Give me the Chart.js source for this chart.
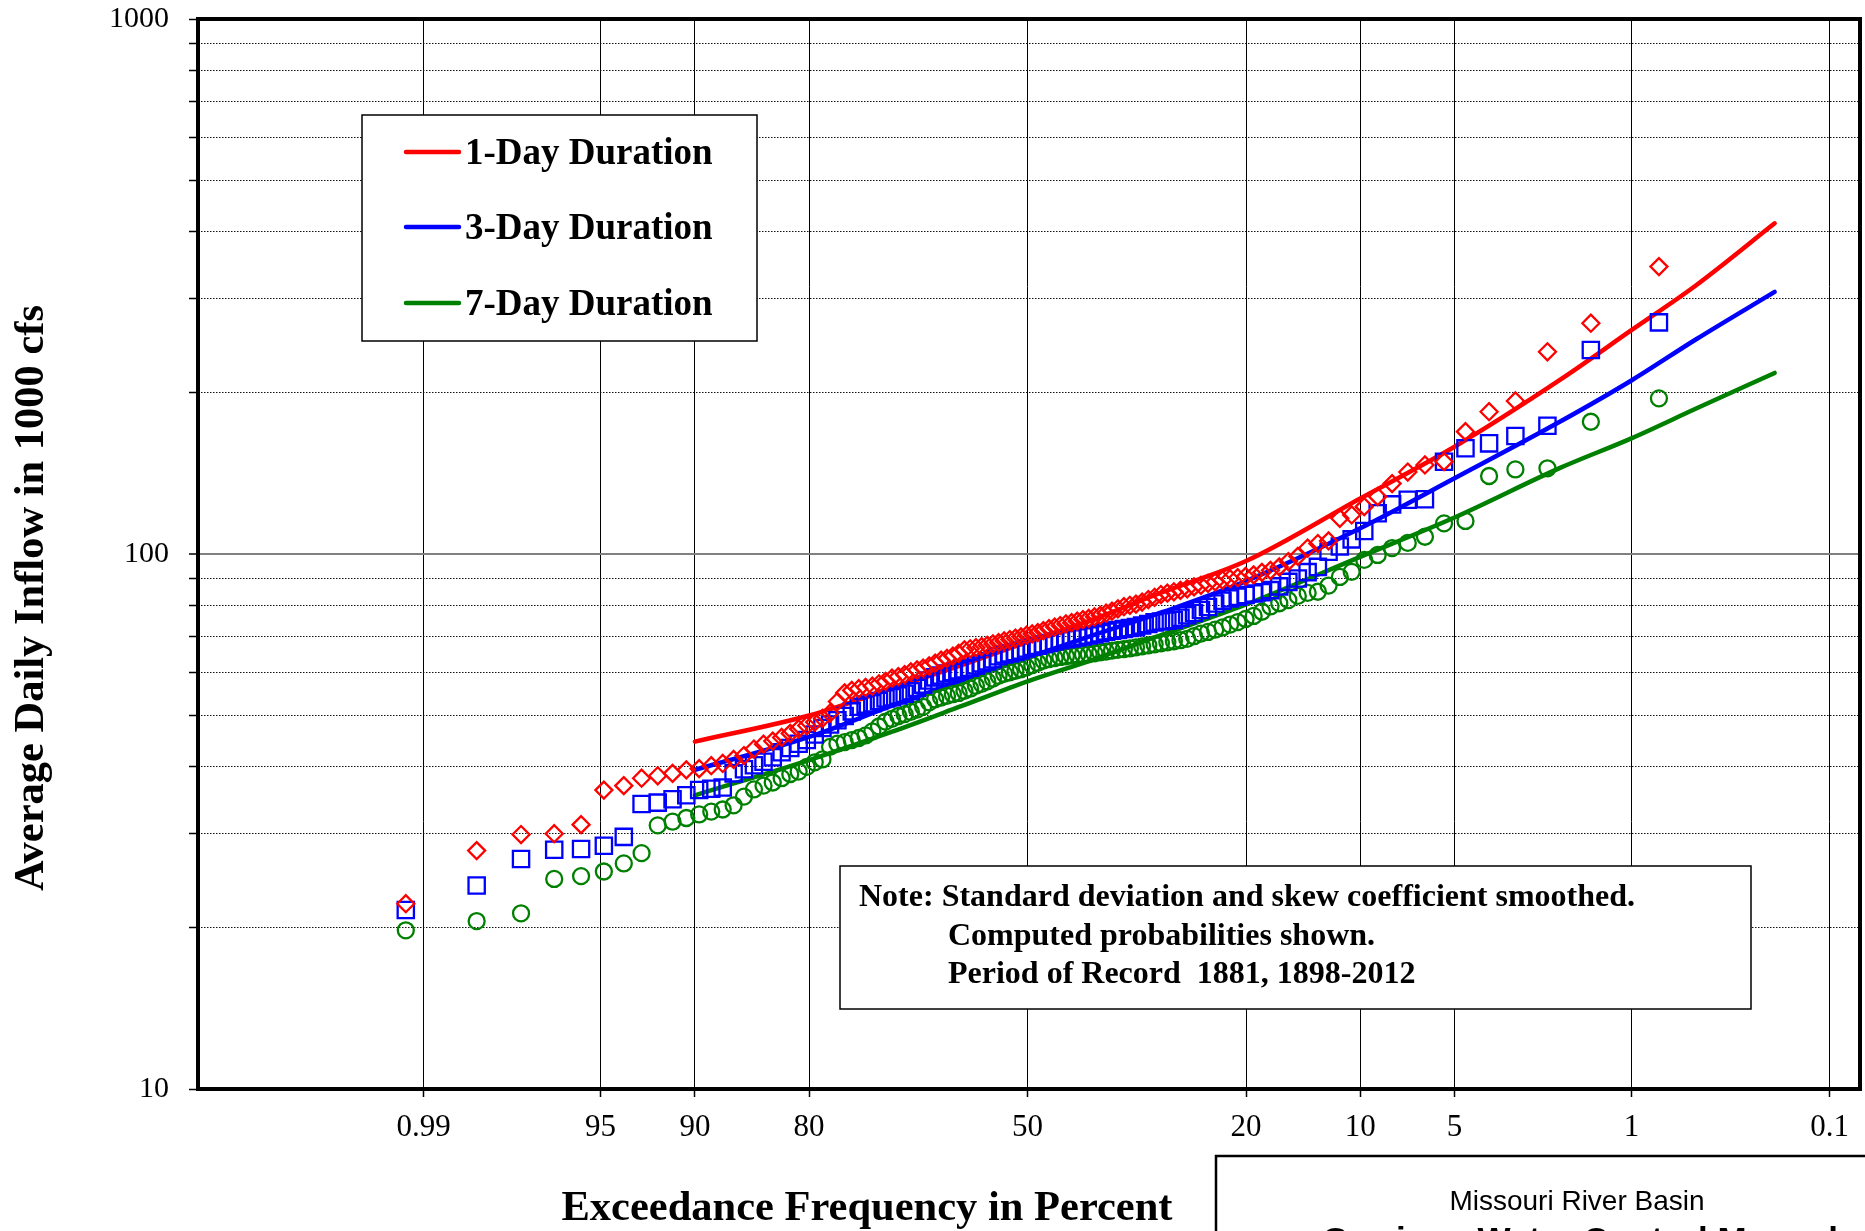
<!DOCTYPE html>
<html>
<head>
<meta charset="utf-8">
<title>Exceedance Frequency - Average Daily Inflow</title>
<script src="https://cdn.jsdelivr.net/npm/chart.js@4.4.1/dist/chart.umd.min.js"></script>
<style>
  html, body { margin: 0; padding: 0; background: #fff; overflow: hidden; }
  #wrap { width: 1865px; height: 1231px; position: relative; }
  canvas { display: block; }
</style>
</head>
<body>
<div id="wrap"><canvas id="freqChart"></canvas></div>
<script>
// Plotting positions (exceedance, percent) shared by the three observed series
const exceedance = [0.75, 1.50, 2.26, 3.01, 3.77, 4.58, 5.43, 6.29, 7.15, 8.01, 8.87, 9.73,
  10.59, 11.45, 12.31, 13.17, 14.03, 14.89, 15.75, 16.61, 17.47, 18.33, 19.19, 20.05,
  20.91, 21.77, 22.63, 23.49, 24.35, 25.21, 26.07, 26.93, 27.79, 28.65, 29.51, 30.37,
  31.23, 32.09, 32.95, 33.81, 34.67, 35.53, 36.39, 37.25, 38.11, 38.97, 39.83, 40.69,
  41.55, 42.41, 43.27, 44.13, 44.99, 45.85, 46.71, 47.57, 48.43, 49.29, 50.15, 51.01,
  51.87, 52.73, 53.59, 54.45, 55.31, 56.17, 57.03, 57.89, 58.75, 59.61, 60.47, 61.33,
  62.19, 63.05, 63.91, 64.77, 65.63, 66.49, 67.35, 68.21, 69.07, 69.93, 70.79, 71.65,
  72.51, 73.37, 74.23, 75.09, 75.95, 76.81, 77.67, 78.53, 79.39, 80.25, 81.11, 81.97,
  82.83, 83.69, 84.55, 85.41, 86.27, 87.13, 87.99, 88.85, 89.71, 90.57, 91.43, 92.29,
  93.15, 94.01, 94.87, 95.73, 96.59, 97.45, 98.31, 99.17];

// Observed inflows, 1000 cfs (ranked, largest first)
const oneDayObs = [344.5, 270, 238.8, 193.2, 184.5, 169.3, 148.8, 146.7, 142.3, 135.4, 128, 122.6,
  118.3, 116.6, 105.8, 104.6, 102.6, 99.0, 96.8, 94.6, 93.2, 92.4, 91.4, 90.8,
  90.3, 89.9, 89.4, 88.7, 88.1, 87.4, 86.8, 86.1, 85.5, 85.0, 84.5, 84.0,
  83.0, 82.2, 81.3, 80.6, 80.2, 79.7, 79.0, 78.2, 77.5, 76.8, 76.3, 75.8,
  75.4, 74.9, 74.4, 74.0, 73.5, 73.0, 72.5, 71.9, 71.3, 70.9, 70.5, 70.0,
  69.6, 69.2, 68.8, 68.3, 67.9, 67.5, 67.1, 66.8, 66.5, 66.2, 65.2, 64.4,
  63.8, 63.3, 62.5, 61.8, 61.2, 60.7, 60.2, 59.5, 59.0, 58.6, 57.8, 57.2,
  56.6, 56.3, 56.0, 55.6, 55.0, 53.0, 50.4, 49.3, 48.5, 47.8, 47.1, 46.2,
  45.4, 44.7, 44.1, 43.2, 42.0, 41.3, 40.6, 40.2, 39.7, 39.5, 38.9, 38.5,
  38.1, 36.9, 36.2, 31.2, 30.0, 29.9, 27.9, 22.2];

const threeDayObs = [271, 240.6, 173.7, 166.2, 161, 157.6, 148.8, 126.6, 126.3, 123.8, 119.2, 110.4,
  106.5, 103.3, 101.0, 94.6, 92.5, 90.0, 88.7, 87.0, 85.6, 84.8, 84.4, 83.8,
  83.2, 82.6, 81.8, 80.8, 79.6, 78.6, 77.6, 76.8, 76.0, 75.3, 75.0, 74.8,
  74.5, 74.0, 73.5, 73.0, 72.7, 72.4, 72.1, 71.9, 71.6, 71.1, 70.7, 70.4,
  70.1, 69.8, 69.5, 69.3, 69.0, 68.6, 68.2, 67.8, 67.4, 67.1, 66.6, 66.0,
  65.6, 65.2, 64.9, 64.4, 63.6, 63.0, 62.5, 61.9, 61.3, 60.9, 60.6, 60.2,
  59.8, 59.3, 58.8, 58.0, 57.0, 56.2, 55.4, 54.8, 54.4, 54.0, 53.7, 53.1,
  52.6, 52.3, 51.8, 50.8, 49.8, 48.9, 48.0, 47.3, 46.0, 44.9, 44.2, 43.4,
  42.6, 41.7, 40.9, 40.3, 39.6, 38.9, 36.6, 36.4, 36.2, 35.4, 34.8, 34.3,
  34.1, 29.6, 28.5, 28.1, 28.0, 26.9, 24.0, 21.6];

const sevenDayObs = [195.4, 176.7, 144.6, 143.9, 139.9, 115.3, 114.1, 107.7, 104.9, 102.6, 99.6, 97.5,
  92.6, 90.6, 87.3, 85.0, 84.6, 83.5, 82.0, 80.9, 79.8, 78.0, 76.6, 75.6,
  74.6, 73.8, 72.9, 72.2, 71.5, 71.0, 70.2, 69.4, 69.0, 68.7, 68.4, 68.1,
  67.8, 67.5, 67.2, 66.9, 66.6, 66.4, 66.2, 66.0, 65.7, 65.5, 65.2, 65.0,
  64.9, 64.8, 64.6, 64.4, 64.2, 63.9, 63.6, 63.2, 62.6, 62.0, 61.4, 60.9,
  60.5, 60.1, 59.7, 59.2, 58.5, 57.8, 57.2, 56.7, 56.0, 55.5, 55.0, 54.7,
  54.3, 53.9, 53.5, 52.8, 51.8, 51.2, 50.7, 50.2, 49.8, 49.2, 48.6, 47.6,
  46.6, 45.8, 45.3, 44.9, 44.5, 44.2, 43.6, 41.3, 40.8, 40.0, 39.2, 38.8,
  38.1, 37.4, 36.9, 36.3, 35.2, 33.9, 33.3, 33.0, 32.6, 32.1, 31.6, 31.1,
  27.6, 26.4, 25.5, 25.0, 24.7, 21.3, 20.6, 19.8];

// Computed frequency curves
const curvePercent = [90, 80, 70, 60, 50, 40, 30, 20, 10, 5, 2, 1, 0.5, 0.2];
const oneDayCurve = [44.6, 49.9, 56, 62, 68.5, 75.5, 85, 97, 127, 158.7, 212, 262, 318, 415];
const threeDayCurve = [39.5, 45.5, 52, 58, 64, 70.5, 78, 89, 111.7, 138.5, 177, 211, 252, 309];
const sevenDayCurve = [35.4, 41.2, 46.5, 52, 57.8, 63.5, 70.8, 80.5, 98.8, 117, 145, 164.5, 187, 218];

// Axis ticks
const xTickPercents = [99, 95, 90, 80, 50, 20, 10, 5, 1, 0.1];
const xTickLabels = ['0.99', '95', '90', '80', '50', '20', '10', '5', '1', '0.1'];
const yTickValues = [10, 20, 30, 40, 50, 60, 70, 80, 90, 100, 200, 300, 400, 500, 600, 700, 800, 900, 1000];
const yLabelValues = [10, 100, 1000];

const seriesNames = ['1-Day Duration', '3-Day Duration', '7-Day Duration'];
const seriesColors = ['#ff0000', '#0000ff', '#008000'];

// Inverse of the standard normal CDF (Acklam's approximation)
function probit(p) {
  const a = [-39.69683028665376, 220.9460984245205, -275.9285104469687, 138.3577518672690, -30.66479806614716, 2.506628277459239];
  const b = [-54.47609879822406, 161.5858368580409, -155.6989798598866, 66.80131188771972, -13.28068155288572];
  const c = [-0.007784894002430293, -0.3223964580411365, -2.400758277161838, -2.549732539343734, 4.374664141464968, 2.938163982698783];
  const d = [0.007784695709041462, 0.3224671290700398, 2.445134137142996, 3.754408661907416];
  const pl = 0.02425;
  let q, r;
  if (p < pl) {
    q = Math.sqrt(-2 * Math.log(p));
    return (((((c[0] * q + c[1]) * q + c[2]) * q + c[3]) * q + c[4]) * q + c[5]) /
      ((((d[0] * q + d[1]) * q + d[2]) * q + d[3]) * q + 1);
  }
  if (p <= 1 - pl) {
    q = p - 0.5;
    r = q * q;
    return (((((a[0] * r + a[1]) * r + a[2]) * r + a[3]) * r + a[4]) * r + a[5]) * q /
      (((((b[0] * r + b[1]) * r + b[2]) * r + b[3]) * r + b[4]) * r + 1);
  }
  q = Math.sqrt(-2 * Math.log(1 - p));
  return -(((((c[0] * q + c[1]) * q + c[2]) * q + c[3]) * q + c[4]) * q + c[5]) /
    ((((d[0] * q + d[1]) * q + d[2]) * q + d[3]) * q + 1);
}

// exceedance percent -> normal deviate used on the probability axis
function toZ(pct) {
  return probit(1 - pct / 100);
}

function toPoints(percents, values) {
  return values.map((v, i) => ({ x: toZ(percents[i]), y: v }));
}

function obsDataset(label, values, color, style, radius) {
  return {
    type: 'scatter',
    label: label,
    data: toPoints(exceedance, values),
    showLine: false,
    pointStyle: style,
    pointRadius: radius,
    pointHoverRadius: radius,
    pointBorderWidth: 2.3,
    borderColor: color,
    backgroundColor: 'rgba(0,0,0,0)'
  };
}

function curveDataset(label, values, color) {
  return {
    type: 'line',
    label: label,
    data: toPoints(curvePercent, values),
    borderColor: color,
    borderWidth: 4.5,
    borderCapStyle: 'round',
    pointRadius: 0,
    fill: false,
    cubicInterpolationMode: 'monotone'
  };
}

const SERIF = "'Liberation Serif', 'Times New Roman', serif";
const SANS = "'Liberation Sans', Arial, sans-serif";

// Titles, legend, note and frame drawn on the canvas
const decorPlugin = {
  id: 'decor',
  beforeDatasetsDraw(chart) {
    const { ctx, chartArea } = chart;
    const y100 = chart.scales.y.getPixelForValue(100);
    ctx.save();
    ctx.strokeStyle = '#808080';
    ctx.lineWidth = 2;
    ctx.beginPath();
    ctx.moveTo(chartArea.left, y100);
    ctx.lineTo(chartArea.right, y100);
    ctx.stroke();
    ctx.restore();
  },
  afterDraw(chart) {
    const { ctx, chartArea } = chart;
    ctx.save();

    // plot frame
    ctx.strokeStyle = '#000';
    ctx.lineWidth = 4;
    ctx.strokeRect(chartArea.left, chartArea.top, chartArea.right - chartArea.left, chartArea.bottom - chartArea.top);

    // legend
    ctx.fillStyle = '#fff';
    ctx.fillRect(362, 115, 395, 226);
    ctx.lineWidth = 1.5;
    ctx.strokeRect(362, 115, 395, 226);
    const rows = [152, 227, 303];
    ctx.font = 'bold 37px ' + SERIF;
    ctx.textAlign = 'left';
    ctx.textBaseline = 'middle';
    seriesNames.forEach((name, i) => {
      ctx.strokeStyle = seriesColors[i];
      ctx.lineWidth = 4.5;
      ctx.lineCap = 'round';
      ctx.beginPath();
      ctx.moveTo(406, rows[i]);
      ctx.lineTo(459, rows[i]);
      ctx.stroke();
      ctx.fillStyle = '#000';
      ctx.fillText(name, 465, rows[i] + 2);
    });

    // note box
    ctx.fillStyle = '#fff';
    ctx.fillRect(840, 866, 911, 143);
    ctx.strokeStyle = '#000';
    ctx.lineWidth = 1.5;
    ctx.strokeRect(840, 866, 911, 143);
    ctx.fillStyle = '#000';
    ctx.font = 'bold 32px ' + SERIF;
    ctx.textBaseline = 'alphabetic';
    ctx.fillText('Note: Standard deviation and skew coefficient smoothed.', 859, 906);
    ctx.fillText('Computed probabilities shown.', 948, 945);
    ctx.fillText('Period of Record  1881, 1898-2012', 948, 983);

    // axis titles
    ctx.font = 'bold 42.5px ' + SERIF;
    ctx.textAlign = 'center';
    ctx.fillText('Exceedance Frequency in Percent', 867, 1220);
    ctx.save();
    ctx.translate(43, 598);
    ctx.rotate(-Math.PI / 2);
    ctx.fillText('Average Daily Inflow in 1000 cfs', 0, 0);
    ctx.restore();

    // project box, bottom right
    ctx.lineWidth = 2.5;
    ctx.strokeRect(1216, 1156, 700, 200);
    ctx.font = '28px ' + SANS;
    ctx.fillText('Missouri River Basin', 1577, 1210);
    ctx.font = 'bold 35px ' + SANS;
    ctx.fillText('Garrison Water Control Manual', 1580, 1252);

    ctx.restore();
  }
};

const ctx = document.getElementById('freqChart').getContext('2d');
new Chart(ctx, {
  data: {
    datasets: [
      obsDataset(seriesNames[0], oneDayObs, seriesColors[0], 'rectRot', 8.5),
      obsDataset(seriesNames[1], threeDayObs, seriesColors[1], 'rect', 11.5),
      obsDataset(seriesNames[2], sevenDayObs, seriesColors[2], 'circle', 8),
      curveDataset(seriesNames[0], oneDayCurve, seriesColors[0]),
      curveDataset(seriesNames[1], threeDayCurve, seriesColors[1]),
      curveDataset(seriesNames[2], sevenDayCurve, seriesColors[2])
    ]
  },
  options: {
    responsive: true,
    maintainAspectRatio: false,
    animation: false,
    devicePixelRatio: 1,
    layout: { autoPadding: false, padding: { top: 19, right: 5, bottom: 0, left: 0 } },
    plugins: {
      legend: { display: false },
      tooltip: { enabled: false }
    },
    scales: {
      x: {
        type: 'linear',
        min: -3.196,
        max: 3.207,
        afterBuildTicks: scale => {
          scale.ticks = xTickPercents.map(p => ({ value: toZ(p) }));
        },
        afterFit: scale => {
          scale.height = 142;
          scale.paddingLeft = 0;
          scale.paddingRight = 0;
        },
        ticks: {
          autoSkip: false,
          maxRotation: 0,
          padding: 12,
          color: '#000',
          font: { family: SERIF, size: 31 },
          callback: (value, index) => xTickLabels[index]
        },
        grid: {
          color: '#000',
          lineWidth: 1,
          tickLength: 8,
          tickColor: '#000',
          tickWidth: 1.5
        },
        border: { display: false }
      },
      y: {
        type: 'logarithmic',
        min: 10,
        max: 1000,
        afterBuildTicks: scale => {
          scale.ticks = yTickValues.map(v => ({ value: v }));
        },
        afterFit: scale => {
          scale.width = 198;
          scale.paddingTop = 0;
          scale.paddingBottom = 0;
        },
        ticks: {
          autoSkip: false,
          padding: 20,
          color: '#000',
          font: { family: SERIF, size: 30 },
          callback: value => (yLabelValues.includes(value) ? String(value) : '')
        },
        grid: {
          color: '#111',
          lineWidth: ctx2 => (ctx2.tick && ctx2.tick.value === 100 ? 0 : 1),
          tickLength: 9,
          tickColor: '#000',
          tickWidth: 1.5,
          tickBorderDash: []
        },
        border: { display: false, dash: [1.5, 1.5] }
      }
    }
  },
  plugins: [decorPlugin]
});
</script>
</body>
</html>
